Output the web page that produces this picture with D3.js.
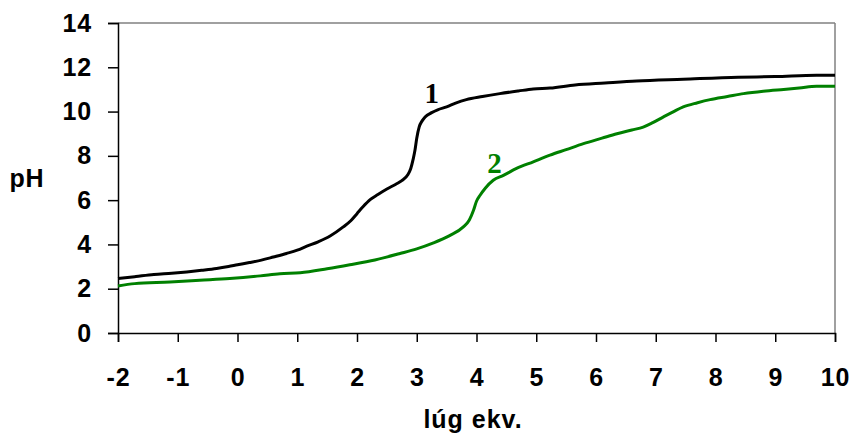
<!DOCTYPE html>
<html>
<head>
<meta charset="utf-8">
<script src="https://cdn.jsdelivr.net/npm/d3@7"></script>
<style>
  html, body { margin: 0; padding: 0; background: #fff; }
  svg { display: block; }
</style>
</head>
<body>
<svg id="chart" width="852" height="433"></svg>
<script>
const xTicks = [-2, -1, 0, 1, 2, 3, 4, 5, 6, 7, 8, 9, 10];
const yTicks = [0, 2, 4, 6, 8, 10, 12, 14];
const xLabel = "lúg ekv.";
const yLabel = "pH";

// curve 1 (black)
const curve1X = [-2, -1.7, -1.4, -1.1, -0.85, -0.6, -0.35, -0.15, 0, 0.2, 0.4, 0.6, 0.82, 1.0, 1.16, 1.35, 1.55, 1.77, 1.9, 2.0, 2.1, 2.22, 2.35, 2.5, 2.65, 2.75, 2.85, 2.9, 2.94, 2.97, 3.0, 3.04, 3.09, 3.14, 3.25, 3.35, 3.5, 3.65, 3.83, 4.1, 4.39, 4.7, 4.95, 5.23, 5.65, 6.15, 6.68, 7.46, 8.38, 9.0, 9.69, 10];
const curve1Y = [2.46, 2.55, 2.64, 2.70, 2.76, 2.83, 2.91, 3.0, 3.08, 3.18, 3.29, 3.43, 3.59, 3.74, 3.92, 4.12, 4.38, 4.79, 5.08, 5.39, 5.70, 6.02, 6.25, 6.50, 6.72, 6.88, 7.15, 7.43, 7.85, 8.25, 8.8, 9.30, 9.58, 9.76, 9.95, 10.08, 10.21, 10.38, 10.54, 10.68, 10.81, 10.93, 11.02, 11.06, 11.20, 11.29, 11.38, 11.46, 11.55, 11.58, 11.64, 11.64];

// curve 2 (green)
const curve2X = [-2, -1.72, -1.13, -0.63, -0.13, 0.38, 0.71, 1.05, 1.5, 1.88, 2.3, 2.72, 3.0, 3.28, 3.55, 3.78, 3.88, 3.95, 4.0, 4.06, 4.15, 4.28, 4.45, 4.67, 4.95, 5.23, 5.5, 5.79, 6.1, 6.35, 6.6, 6.79, 6.95, 7.13, 7.3, 7.46, 7.7, 7.91, 8.2, 8.47, 8.8, 9.14, 9.4, 9.69, 10];
const curve2Y = [2.12, 2.23, 2.30, 2.38, 2.46, 2.58, 2.68, 2.72, 2.90, 3.08, 3.30, 3.59, 3.80, 4.07, 4.40, 4.79, 5.10, 5.54, 5.95, 6.22, 6.55, 6.90, 7.12, 7.43, 7.73, 8.03, 8.28, 8.55, 8.80, 9.00, 9.17, 9.30, 9.50, 9.76, 10.0, 10.21, 10.40, 10.54, 10.68, 10.81, 10.92, 11.00, 11.06, 11.14, 11.14];

const curveLabels = [
  { text: "1", x: 3.25, y: 10.39, color: "#000000" },
  { text: "2", x: 4.30, y: 7.23, color: "#008000" }
];

const svg = d3.select("#chart");
const mLeft = 118, mRight = 835, mTop = 23, mBottom = 333;

const x = d3.scaleLinear().domain([-2, 10]).range([mLeft, mRight]);
const y = d3.scaleLinear().domain([0, 14]).range([mBottom, mTop]);

// plot frame (top and right grey)
svg.append("line").attr("x1", mLeft).attr("x2", mRight).attr("y1", mTop).attr("y2", mTop)
  .attr("stroke", "#808080").attr("stroke-width", 1.5);
svg.append("line").attr("x1", mRight).attr("x2", mRight).attr("y1", mTop).attr("y2", mBottom)
  .attr("stroke", "#808080").attr("stroke-width", 1.5);

const font = "'Liberation Sans', Arial, sans-serif";
const fs = "25px";

const xAxis = svg.append("g").attr("transform", `translate(0,${mBottom})`)
  .call(d3.axisBottom(x).tickValues(xTicks).tickSize(9).tickPadding(26).tickFormat(d => String(d)));
const yAxis = svg.append("g").attr("transform", `translate(${mLeft},0)`)
  .call(d3.axisLeft(y).tickValues(yTicks).tickSize(10).tickPadding(16).tickFormat(d => String(d)));

[xAxis, yAxis].forEach(g => {
  g.select(".domain").attr("stroke", "#000").attr("stroke-width", 1.5);
  g.selectAll(".tick line").attr("stroke", "#000").attr("stroke-width", 1.5);
  g.selectAll(".tick text").attr("fill", "#000")
    .style("font-family", font).style("font-weight", "bold").style("font-size", fs)
    .style("letter-spacing", "0.8px");
});
xAxis.selectAll(".tick text").attr("dy", "0.71em");

svg.append("text").attr("x", 473).attr("y", 428)
  .attr("text-anchor", "middle")
  .style("font-family", font).style("font-weight", "bold").style("font-size", fs)
  .style("letter-spacing", "1px")
  .text(xLabel);
svg.append("text").attr("x", 27).attr("y", 187)
  .attr("text-anchor", "middle")
  .style("font-family", font).style("font-weight", "bold").style("font-size", fs)
  .style("letter-spacing", "0.8px")
  .text(yLabel);

const line = d3.line().x(d => x(d[0])).y(d => y(d[1])).curve(d3.curveMonotoneX);

const series = [
  { xs: curve1X, ys: curve1Y, color: "#000000" },
  { xs: curve2X, ys: curve2Y, color: "#008000" }
];
series.forEach(s => {
  const pts = s.xs.map((v, i) => [v, s.ys[i]]);
  svg.append("path").datum(pts).attr("d", line)
    .attr("fill", "none").attr("stroke", s.color).attr("stroke-width", 3)
    .attr("stroke-linejoin", "round");
});

curveLabels.forEach(l => {
  svg.append("text").attr("x", x(l.x)).attr("y", y(l.y))
    .attr("text-anchor", "middle").attr("fill", l.color)
    .style("font-family", "'Liberation Serif', 'Times New Roman', serif")
    .style("font-weight", "bold").style("font-size", "29px")
    .text(l.text);
});
</script>
</body>
</html>
